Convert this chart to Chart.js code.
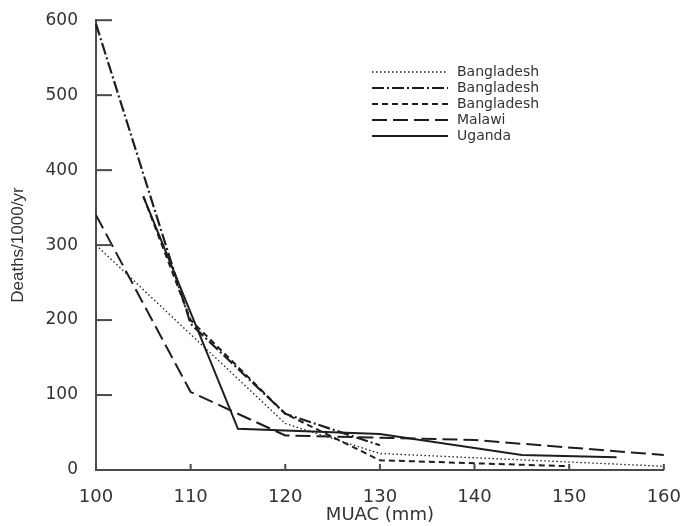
<!DOCTYPE html>
<html>
<head>
<meta charset="utf-8">
<script src="https://cdn.jsdelivr.net/npm/chart.js@4/dist/chart.umd.min.js"></script>
<style>
  html, body { margin: 0; background: #fff; }
</style>
</head>
<body>
<canvas id="grafico" width="690" height="526"></canvas>
<script>
// data (MUAC in mm, deaths per 1000 per year)
const seriesLabels = ["Bangladesh", "Bangladesh", "Bangladesh", "Malawi", "Uganda"];

const muacBd1 = [100, 120, 130, 160];
const deathsBd1 = [300, 62, 22, 5];

const muacBd2 = [100, 110, 120, 130];
const deathsBd2 = [595, 195, 75, 33];

const muacBd3 = [105, 110, 120, 130, 150];
const deathsBd3 = [365, 200, 75, 13, 5];

const muacMalawi = [100, 110, 120, 140, 160];
const deathsMalawi = [340, 104, 46, 40, 20];

const muacUganda = [105, 115, 130, 145, 155];
const deathsUganda = [365, 55, 48, 20, 17];

const xTicks = [100, 110, 120, 130, 140, 150, 160];
const yTicks = [0, 100, 200, 300, 400, 500, 600];

const ink = "#1e1e1e";
const axisCol = "#4a4a4a";
const textCol = "#333";

const estilos = [
  { borderDash: [1.5, 2.5], borderWidth: 1.3 },
  { borderDash: [12, 3, 2, 3], borderWidth: 2.2 },
  { borderDash: [6, 4], borderWidth: 2 },
  { borderDash: [15, 6], borderWidth: 2 },
  { borderDash: [], borderWidth: 2 }
];

const pares = [
  [muacBd1, deathsBd1],
  [muacBd2, deathsBd2],
  [muacBd3, deathsBd3],
  [muacMalawi, deathsMalawi],
  [muacUganda, deathsUganda]
];

const datasets = pares.map(([xs, ys], i) => ({
  label: seriesLabels[i],
  data: xs.map((v, k) => ({ x: v, y: ys[k] })),
  borderColor: ink,
  borderWidth: estilos[i].borderWidth,
  borderDash: estilos[i].borderDash,
  pointRadius: 0,
  tension: 0,
  fill: false,
  clip: false
}));

// inward tick marks + legend inside the plot
const extras = {
  id: "extras",
  afterDraw(chart) {
    const { ctx, chartArea: a, scales: { x, y } } = chart;
    ctx.save();
    ctx.strokeStyle = axisCol;
    ctx.lineWidth = 2;
    ctx.setLineDash([]);
    yTicks.forEach(v => {
      const py = y.getPixelForValue(v);
      ctx.beginPath();
      ctx.moveTo(a.left, py);
      ctx.lineTo(a.left + 16, py);
      ctx.stroke();
    });
    xTicks.forEach(v => {
      const px = x.getPixelForValue(v);
      ctx.beginPath();
      ctx.moveTo(px, a.bottom);
      ctx.lineTo(px, a.bottom - 6);
      ctx.stroke();
    });

    // legend
    ctx.font = "14px 'DejaVu Sans'";
    ctx.fillStyle = textCol;
    ctx.textBaseline = "middle";
    datasets.forEach((ds, i) => {
      const ly = 72 + i * 16;
      ctx.strokeStyle = ink;
      ctx.lineWidth = ds.borderWidth;
      ctx.setLineDash(ds.borderDash);
      ctx.beginPath();
      ctx.moveTo(372, ly);
      ctx.lineTo(448, ly);
      ctx.stroke();
      ctx.fillText(ds.label, 457, ly);
    });
    ctx.restore();
  }
};

new Chart(document.getElementById("grafico"), {
  type: "line",
  data: { datasets },
  options: {
    responsive: false,
    animation: false,
    devicePixelRatio: 1,
    layout: { padding: { top: 12, right: 25, left: 0, bottom: 0 } },
    plugins: { legend: { display: false }, tooltip: { enabled: false } },
    scales: {
      x: {
        type: "linear",
        min: 100,
        max: 160,
        afterFit: s => { s.height = 56; },
        afterBuildTicks: s => { s.ticks = xTicks.map(v => ({ value: v })); },
        grid: { display: false },
        border: { display: true, color: axisCol, width: 2 },
        ticks: { color: textCol, padding: 9, font: { family: "DejaVu Sans", size: 18 } },
        title: {
          display: true,
          text: "MUAC (mm)",
          color: textCol,
          padding: { top: 0, bottom: 0 },
          font: { family: "DejaVu Sans", size: 18 }
        }
      },
      y: {
        min: 0,
        max: 600,
        afterFit: s => { s.width = 96; },
        afterBuildTicks: s => { s.ticks = yTicks.map(v => ({ value: v })); },
        grid: { display: false },
        border: { display: true, color: axisCol, width: 2 },
        ticks: { color: textCol, padding: 10, font: { family: "DejaVu Sans", size: 17 } },
        title: {
          display: true,
          text: "Deaths/1000/yr",
          color: textCol,
          padding: { top: 8, bottom: 0 },
          font: { family: "Liberation Sans Narrow, Liberation Sans", size: 17 }
        }
      }
    }
  },
  plugins: [extras]
});
</script>
</body>
</html>
